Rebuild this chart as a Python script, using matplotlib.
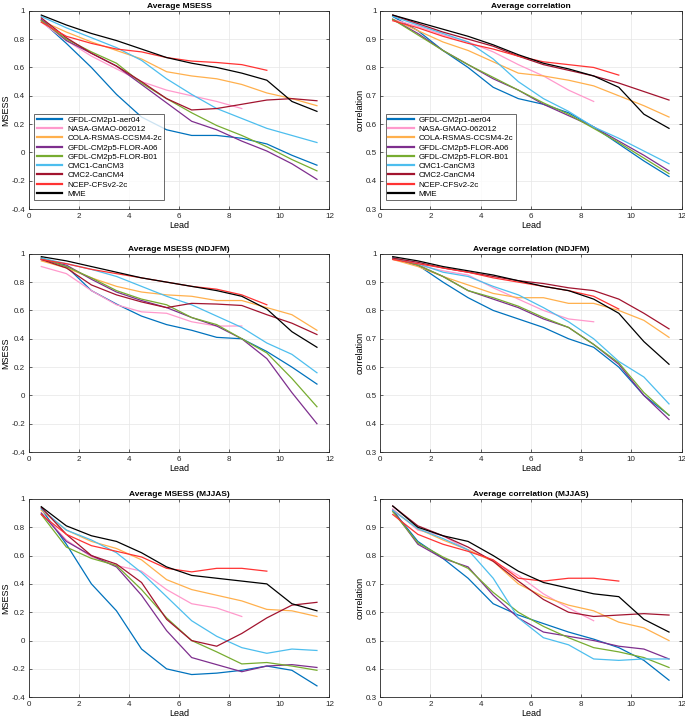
import matplotlib
matplotlib.use("Agg")
import matplotlib.pyplot as plt
import numpy as np

plt.rcParams['font.family'] = ['Liberation Sans', 'DejaVu Sans']
plt.rcParams['axes.unicode_minus'] = False

lead = [0.5, 1.5, 2.5, 3.5, 4.5, 5.5, 6.5, 7.5, 8.5, 9.5, 10.5, 11.5]

models = ['GFDL-CM2p1-aer04', 'NASA-GMAO-062012', 'COLA-RSMAS-CCSM4-2c',
          'GFDL-CM2p5-FLOR-A06', 'GFDL-CM2p5-FLOR-B01', 'CMC1-CanCM3',
          'CMC2-CanCM4', 'NCEP-CFSv2-2c', 'MME']
colors = ['#0072BD', '#FF99CC', '#FFB04D', '#7E2F8E', '#77AC30', '#4DBEEE',
          '#A2142F', '#FF3333', '#000000']

# Average MSESS
msess_all = [
    [0.93, 0.77, 0.60, 0.41, 0.25, 0.16, 0.12, 0.12, 0.10, 0.06, -0.02, -0.09],
    [0.92, 0.79, 0.68, 0.59, 0.50, 0.44, 0.40, 0.36, 0.31],
    [0.93, 0.85, 0.78, 0.72, 0.66, 0.57, 0.54, 0.52, 0.48, 0.42, 0.38, 0.33],
    [0.94, 0.79, 0.70, 0.61, 0.48, 0.35, 0.22, 0.16, 0.08, 0.01, -0.08, -0.19],
    [0.93, 0.80, 0.71, 0.63, 0.49, 0.38, 0.28, 0.19, 0.12, 0.04, -0.05, -0.13],
    [0.96, 0.88, 0.81, 0.74, 0.65, 0.52, 0.41, 0.31, 0.24, 0.17, 0.12, 0.07],
    [0.95, 0.81, 0.70, 0.61, 0.50, 0.38, 0.30, 0.31, 0.34, 0.37, 0.38, 0.365],
    [0.92, 0.82, 0.77, 0.73, 0.71, 0.67, 0.645, 0.635, 0.62, 0.58],
    [0.97, 0.90, 0.84, 0.79, 0.73, 0.67, 0.63, 0.60, 0.56, 0.51, 0.36, 0.29],
]
# Average correlation
corr_all = [
    [0.98, 0.93, 0.86, 0.80, 0.73, 0.69, 0.67, 0.64, 0.59, 0.53, 0.47, 0.415],
    [0.97, 0.945, 0.915, 0.89, 0.855, 0.81, 0.77, 0.72, 0.68],
    [0.97, 0.93, 0.89, 0.86, 0.82, 0.78, 0.77, 0.755, 0.735, 0.70, 0.665, 0.625],
    [0.97, 0.92, 0.86, 0.81, 0.76, 0.72, 0.67, 0.63, 0.59, 0.54, 0.49, 0.435],
    [0.97, 0.915, 0.86, 0.81, 0.765, 0.72, 0.675, 0.635, 0.585, 0.535, 0.48, 0.425],
    [0.98, 0.95, 0.92, 0.89, 0.83, 0.75, 0.69, 0.645, 0.59, 0.55, 0.505, 0.46],
    [0.985, 0.955, 0.925, 0.90, 0.875, 0.84, 0.81, 0.79, 0.77, 0.745, 0.715, 0.685],
    [0.965, 0.94, 0.91, 0.885, 0.865, 0.84, 0.82, 0.81, 0.80, 0.773],
    [0.985, 0.96, 0.935, 0.91, 0.88, 0.845, 0.815, 0.795, 0.77, 0.73, 0.635, 0.585],
]
# Average MSESS (NDJFM)
msess_ndjfm = [
    [0.97, 0.91, 0.74, 0.645, 0.56, 0.50, 0.46, 0.41, 0.40, 0.31, 0.20, 0.08],
    [0.91, 0.86, 0.74, 0.64, 0.59, 0.58, 0.52, 0.49, 0.49],
    [0.95, 0.90, 0.83, 0.77, 0.73, 0.71, 0.70, 0.67, 0.67, 0.62, 0.57, 0.46],
    [0.96, 0.92, 0.82, 0.73, 0.67, 0.62, 0.55, 0.49, 0.40, 0.26, 0.02, -0.20],
    [0.97, 0.91, 0.83, 0.74, 0.68, 0.64, 0.55, 0.50, 0.40, 0.30, 0.12, -0.08],
    [0.97, 0.93, 0.89, 0.84, 0.77, 0.70, 0.64, 0.56, 0.48, 0.37, 0.29, 0.16],
    [0.96, 0.90, 0.78, 0.71, 0.66, 0.62, 0.65, 0.645, 0.635, 0.57, 0.51, 0.43],
    [0.96, 0.93, 0.89, 0.86, 0.83, 0.80, 0.77, 0.75, 0.71, 0.64],
    [0.98, 0.95, 0.91, 0.87, 0.83, 0.80, 0.77, 0.74, 0.70, 0.61, 0.45, 0.34],
]
# Average correlation (NDJFM)
corr_ndjfm = [
    [0.985, 0.96, 0.90, 0.845, 0.80, 0.77, 0.74, 0.70, 0.67, 0.60, 0.50, 0.43],
    [0.98, 0.96, 0.94, 0.925, 0.88, 0.84, 0.80, 0.77, 0.76],
    [0.98, 0.955, 0.92, 0.89, 0.86, 0.845, 0.845, 0.825, 0.825, 0.80, 0.765, 0.705],
    [0.985, 0.96, 0.92, 0.87, 0.84, 0.81, 0.77, 0.74, 0.68, 0.61, 0.50, 0.415],
    [0.985, 0.96, 0.92, 0.87, 0.845, 0.815, 0.775, 0.74, 0.68, 0.615, 0.51, 0.43],
    [0.985, 0.965, 0.935, 0.92, 0.885, 0.855, 0.81, 0.76, 0.70, 0.62, 0.565, 0.47],
    [0.985, 0.97, 0.95, 0.935, 0.92, 0.905, 0.895, 0.88, 0.87, 0.84, 0.79, 0.735],
    [0.98, 0.965, 0.95, 0.935, 0.915, 0.90, 0.885, 0.87, 0.85, 0.805],
    [0.99, 0.975, 0.955, 0.94, 0.925, 0.905, 0.885, 0.87, 0.84, 0.79, 0.69, 0.61],
]
# Average MSESS (MJJAS)
msess_mjjas = [
    [0.93, 0.68, 0.40, 0.21, -0.06, -0.20, -0.24, -0.23, -0.21, -0.18, -0.21, -0.32],
    [0.90, 0.71, 0.59, 0.53, 0.49, 0.36, 0.26, 0.23, 0.17],
    [0.92, 0.78, 0.70, 0.65, 0.57, 0.43, 0.36, 0.32, 0.28, 0.22, 0.21, 0.17],
    [0.90, 0.70, 0.60, 0.52, 0.32, 0.07, -0.12, -0.17, -0.22, -0.18, -0.17, -0.19],
    [0.89, 0.66, 0.58, 0.53, 0.36, 0.16, 0.00, -0.08, -0.165, -0.155, -0.18, -0.21],
    [0.93, 0.78, 0.71, 0.62, 0.48, 0.31, 0.14, 0.03, -0.05, -0.09, -0.06, -0.07],
    [0.94, 0.75, 0.60, 0.54, 0.41, 0.15, 0.00, -0.04, 0.05, 0.16, 0.25, 0.27],
    [0.89, 0.75, 0.67, 0.63, 0.59, 0.51, 0.485, 0.51, 0.51, 0.49],
    [0.945, 0.81, 0.74, 0.70, 0.62, 0.52, 0.46, 0.44, 0.42, 0.40, 0.26, 0.21],
]
# Average correlation (MJJAS)
corr_mjjas = [
    [0.96, 0.85, 0.79, 0.72, 0.63, 0.59, 0.56, 0.53, 0.505, 0.475, 0.43, 0.36],
    [0.965, 0.89, 0.87, 0.82, 0.78, 0.73, 0.665, 0.615, 0.57],
    [0.96, 0.895, 0.855, 0.82, 0.78, 0.70, 0.655, 0.625, 0.605, 0.565, 0.545, 0.50],
    [0.96, 0.84, 0.79, 0.76, 0.66, 0.58, 0.53, 0.515, 0.50, 0.48, 0.47, 0.435],
    [0.955, 0.845, 0.795, 0.755, 0.67, 0.60, 0.55, 0.51, 0.475, 0.46, 0.44, 0.405],
    [0.96, 0.895, 0.86, 0.82, 0.72, 0.58, 0.51, 0.485, 0.435, 0.43, 0.435, 0.435],
    [0.975, 0.905, 0.87, 0.83, 0.78, 0.71, 0.645, 0.60, 0.585, 0.59, 0.595, 0.59],
    [0.945, 0.875, 0.84, 0.815, 0.785, 0.72, 0.71, 0.72, 0.72, 0.71],
    [0.975, 0.90, 0.87, 0.85, 0.80, 0.745, 0.705, 0.685, 0.665, 0.655, 0.575, 0.53],
]

panels = [
    (msess_all, 'Average MSESS', 'MSESS', True),
    (corr_all, 'Average correlation', 'correlation', True),
    (msess_ndjfm, 'Average MSESS (NDJFM)', 'MSESS', False),
    (corr_ndjfm, 'Average correlation (NDJFM)', 'correlation', False),
    (msess_mjjas, 'Average MSESS (MJJAS)', 'MSESS', False),
    (corr_mjjas, 'Average correlation (MJJAS)', 'correlation', False),
]

# axes boxes in figure fractions
lefts = [0.042, 0.555]
bottoms = [0.710, 0.373, 0.033]
widths = [0.439, 0.440]
height = 0.275

fig = plt.figure(figsize=(6.85, 7.21), dpi=100)

for i, (data, title, ylab, show_leg) in enumerate(panels):
    r, c = divmod(i, 2)
    ax = fig.add_axes([lefts[c], bottoms[r], widths[c], height])
    for vals, name, col in zip(data, models, colors):
        ax.plot(lead[:len(vals)], vals, color=col, lw=0.9, label=name)
    ax.set_xlim(0, 12)
    ax.set_xticks(np.arange(0, 13, 2))
    if ylab == 'MSESS':
        ax.set_ylim(-0.4, 1)
        ax.set_yticks(np.arange(-0.4, 1.01, 0.2))
        ax.set_yticklabels(['-0.4', '-0.2', '0', '0.2', '0.4', '0.6', '0.8', '1'])
    else:
        ax.set_ylim(0.3, 1)
        ax.set_yticks(np.arange(0.3, 1.01, 0.1))
        ax.set_yticklabels(['0.3', '0.4', '0.5', '0.6', '0.7', '0.8', '0.9', '1'])
    ax.grid(True, color='#e6e6e6', lw=0.5)
    ax.set_axisbelow(True)
    ax.tick_params(labelsize=5.8, length=2.5, width=0.5, direction='in',
                   top=True, right=True, pad=2.5, colors='#262626')
    for s in ax.spines.values():
        s.set_linewidth(0.6)
        s.set_color('#262626')
    ax.set_title(title, fontsize=6, fontweight='bold', pad=2)
    ax.set_xlabel('Lead', fontsize=6.5, labelpad=1)
    ax.set_ylabel(ylab, fontsize=6.5, labelpad=1)
    if show_leg:
        leg = ax.legend(loc='lower left', fontsize=5.8, frameon=True, fancybox=False,
                        edgecolor='#262626', handlelength=3.2, handletextpad=0.6,
                        labelspacing=0.2, borderpad=0.3, borderaxespad=0,
                        bbox_to_anchor=(0.018, 0.045))
        leg.get_frame().set_linewidth(0.6)
        for h in leg.get_lines():
            h.set_linewidth(1.6)

fig.savefig('out.png', dpi=100)
